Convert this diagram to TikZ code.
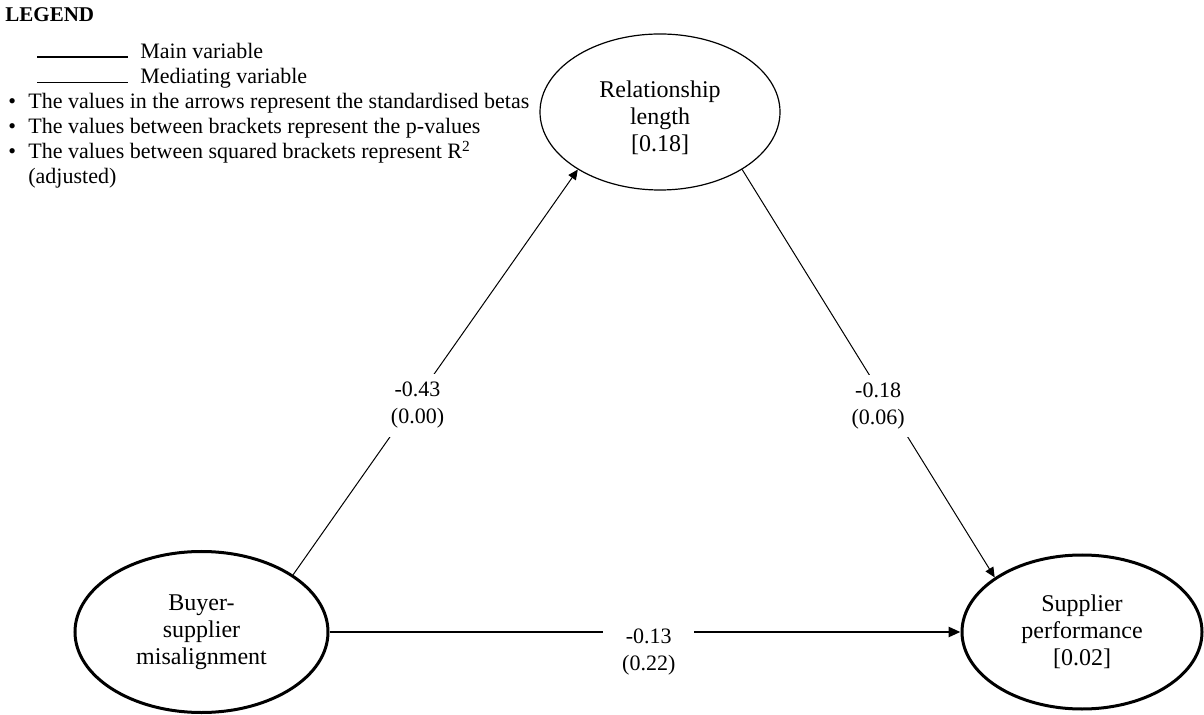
\documentclass[tikz,border=0pt]{standalone}
\usepackage{fontspec}
\setmainfont{Liberation Serif}
\usetikzlibrary{shapes.geometric,arrows.meta}
\begin{document}
\begin{tikzpicture}[x=0.5pt,y=-0.5pt,
  construct/.style={ellipse,draw,inner sep=0pt,align=center,
    font=\fontsize{12}{13.5}\selectfont},
  mainvar/.style={construct,line width=1.5pt},
  medvar/.style={construct,line width=0.6pt},
  mainpath/.style={line width=1.3pt,-{Triangle[length=6pt,width=5pt]}},
  medpath/.style={line width=0.5pt,-{Triangle[length=5pt,width=4.5pt]}},
  coef/.style={fill=white,align=center,inner ysep=4pt,inner xsep=2pt,
    font=\fontsize{11}{13.5}\selectfont},
  legendtext/.style={anchor=base west,inner sep=0pt,
    font=\fontsize{11}{12.5}\selectfont}]
\useasboundingbox (0,0) rectangle (1204,715);

% legend
\node[legendtext,font=\fontsize{10.5}{12.5}\selectfont\bfseries] (lgtitle) at (5,22) {LEGEND};
\coordinate (mainA) at (37,57);
\coordinate (mainB) at (128,57);
\coordinate (medA) at (37,83);
\coordinate (medB) at (128,83);
\draw[line width=1pt] (mainA) -- (mainB);
\draw[line width=0.5pt] (medA) -- (medB);
\node[legendtext] (lgmain) at (140,59) {Main variable};
\node[legendtext] (lgmed) at (140,84) {Mediating variable};
\node[legendtext] (bul1) at (8,109) {•};
\node[legendtext] (bul2) at (8,134) {•};
\node[legendtext] (bul3) at (8,159) {•};
\node[legendtext] (lg1) at (28,109) {The values in the arrows represent the standardised betas};
\node[legendtext] (lg2) at (28,134) {The values between brackets represent the p-values};
\node[legendtext] (lg3) at (28,159) {The values between squared brackets represent R\textsuperscript{2}};
\node[legendtext] (lg4) at (28,184) {(adjusted)};

% constructs
\node[medvar,minimum width=120pt,minimum height=78pt] (rel) at (660,112)
  {\rule{0pt}{14pt}Relationship\\length\\{}[0.18]};
\node[mainvar,minimum width=126.5pt,minimum height=80.5pt] (buy) at (201.5,632)
  {Buyer-\\supplier\\misalignment};
\node[mainvar,minimum width=120pt,minimum height=77pt] (sup) at (1082,632)
  {Supplier\\performance\\{}[0.02]};

% paths
\draw[medpath] (buy.32.4) -- (rel.215.3)
  node[coef,pos=0.43,xshift=1pt,yshift=-2.5pt] (c1) {-0.43\\(0.00)};
\draw[medpath] (rel.325) -- (sup.148.8)
  node[coef,pos=0.57,xshift=-4pt,yshift=-2pt] (c2) {-0.18\\(0.06)};
\draw[mainpath] (buy.east) -- (sup.west)
  node[coef,pos=0.506,inner xsep=9.5pt,anchor=north,yshift=6pt] (c3) {-0.13\\(0.22)};
\end{tikzpicture}
\end{document}
